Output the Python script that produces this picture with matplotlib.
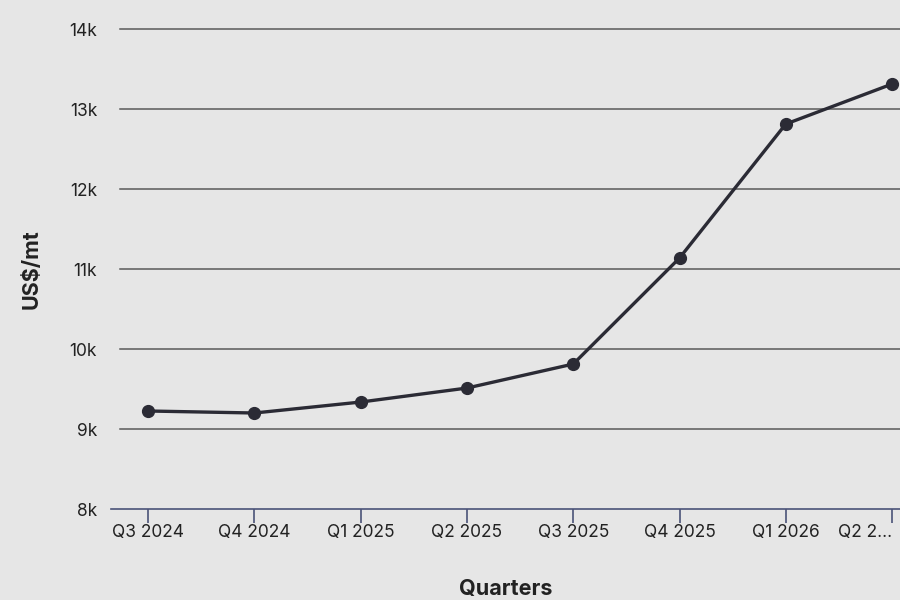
import matplotlib.pyplot as plt
import numpy as np

plt.rcParams['font.family'] = ['Inter', 'DejaVu Sans']

quarters = ['Q3 2024', 'Q4 2024', 'Q1 2025', 'Q2 2025', 'Q3 2025', 'Q4 2025', 'Q1 2026', 'Q2 2026']
tick_labels = ['Q3 2024', 'Q4 2024', 'Q1 2025', 'Q2 2025', 'Q3 2025', 'Q4 2025', 'Q1 2026', 'Q2 2...']
price = [9225, 9200, 9337, 9512, 9812, 11137, 12812, 13312]
y_ticks = [8000, 9000, 10000, 11000, 12000, 13000, 14000]

bg = '#e6e6e6'
fig = plt.figure(figsize=(9, 6), dpi=100, facecolor=bg)
ax = fig.add_axes([111 / 900, 91 / 600, 789 / 900, 480 / 600], facecolor=bg)

x = np.arange(len(quarters))
for v in y_ticks[1:]:
    ax.axhline(v, xmin=9 / 789, xmax=1, color='#5a5a5a', lw=1.1, zorder=1, clip_on=False)

ax.plot(x, price, color='#2b2b35', lw=2.4, marker='o', markersize=8.5, zorder=3, clip_on=False)

ax.set_xlim(-0.35, 7.075)
ax.set_ylim(8000, 14000)
ax.set_xticks(x, tick_labels, fontsize=12.5, color='#222222')
ax.get_xticklabels()[-1].set_ha('right')
ax.set_yticks(y_ticks, ['%dk' % (v // 1000) for v in y_ticks], fontsize=12.5, color='#222222')

for name, spine in ax.spines.items():
    spine.set_visible(name == 'bottom')
ax.spines['bottom'].set_color('#4b5378')
ax.spines['bottom'].set_linewidth(1.2)
ax.tick_params(axis='x', length=10, width=1.2, color='#4b5378', pad=1)
ax.tick_params(axis='y', length=0, pad=10)

ax.set_ylabel('US$/mt', fontsize=15.5, fontweight='bold', color='#222222', labelpad=20)
ax.set_xlabel('Quarters', fontsize=15.5, fontweight='bold', color='#222222', labelpad=27)

fig.savefig('out.png', dpi=100, facecolor=bg)
